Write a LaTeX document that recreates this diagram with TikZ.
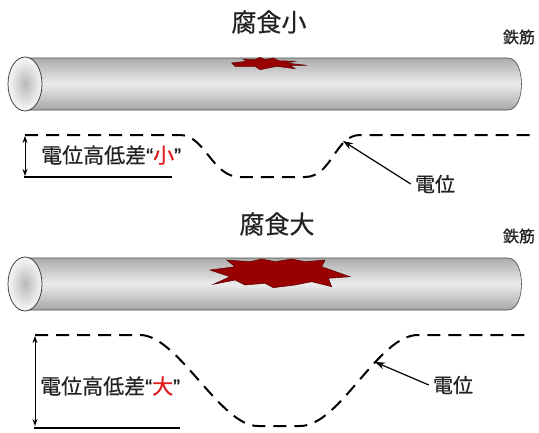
\documentclass[tikz,border=0pt]{standalone}
\usepackage{fontspec}
\setmainfont{Noto Sans CJK JP}[FakeBold=0.6]
\newfontfamily\latinq{Liberation Sans}[FakeBold=0.8]
\usetikzlibrary{arrows.meta}
\definecolor{rust}{HTML}{990000}
\definecolor{ink}{HTML}{222222}
\definecolor{alert}{HTML}{E01818}

\begin{document}
\begin{tikzpicture}[x=1pt,y=-1pt,
  title/.style={font=\fontsize{25}{25}\selectfont, text=ink, inner sep=0pt},
  bartag/.style={font=\fontsize{16}{16}\selectfont, text=ink, inner sep=0pt},
  dimlabel/.style={font=\fontsize{21}{21}\selectfont, text=ink, inner sep=0pt, anchor=west},
  potlabel/.style={font=\fontsize{20}{20}\selectfont, text=ink, inner sep=4pt},
  potential/.style={line width=2pt, dash pattern=on 13pt off 8pt},
  baseline/.style={line width=2pt},
  dimarrow/.style={line width=0.9pt, {Stealth[length=7pt,width=5pt]}-{Stealth[length=7pt,width=5pt]}},
  pointer/.style={line width=1.2pt, -{Stealth[length=10pt,width=7pt]}},
  pipebody/.style={draw=gray!60!black, line width=0.6pt, top color=gray!65, bottom color=gray!70, middle color=gray!15},
  pipecap/.style={draw=gray!50!black, line width=0.8pt, inner color=gray!55, outer color=gray!6},
  pit/.style={fill=rust, draw=rust!60!black, line width=0.5pt, line join=miter},
  rebar/.pic={
    \path[pipebody] (25,0) -- (508,0) .. controls (526,0) and (526,52) .. (508,52) -- (25,52) -- cycle;
    \path[pipecap] (25,26) ellipse [x radius=17, y radius=27];
  },
]
\useasboundingbox (0,0) rectangle (539,432);

% ---------------- upper panel: small corrosion ----------------
\node[title] (t1) at (269,22) {腐食小};
\node[bartag] (b1) at (519,37) {鉄筋};
\pic at (0,58) {rebar};
\path[pit] (231.7,63) -- (246.7,61.3) -- (243.3,59) -- (255,59.7) -- (260,57.3)
  -- (265,59.7) -- (273.3,58) -- (278.3,60.7) -- (295,61.3) -- (286.7,63)
  -- (306.7,65.3) -- (290,65.3) -- (295,68.7) -- (276.7,66.3) -- (268.3,68)
  -- (260,69.7) -- (255,66.3) -- (241.7,66.3) -- (235,66.3) -- cycle;

\draw[potential] (25,135) -- (180,135) .. controls (205,135) and (212,177) .. (240,177)
  -- (305,177) .. controls (332,177) and (335,135) .. (360,135) -- (530,135);
\coordinate (top1) at (25,136);
\coordinate (bot1) at (25,176);
\coordinate (base1a) at (24,177);
\coordinate (base1b) at (172,177);
\draw[dimarrow] (top1) -- (bot1);
\draw[baseline] (base1a) -- (base1b);
\node[dimlabel] (d1) at (41,155) {電位高低差{\latinq “}{\color{alert}小}{\latinq ”}};
\node[potlabel] (e1) at (435,184) {電位};
\coordinate (p1) at (343,141);
\draw[pointer] (e1.west) -- (p1);

% ---------------- lower panel: large corrosion ----------------
\node[title] (t2) at (277,224) {腐食大};
\node[bartag] (b2) at (519,236) {鉄筋};
\pic at (0,258) {rebar};
\path[pit] (210,270) -- (235,266.7) -- (226.7,260) -- (250,261.7) -- (261.7,259)
  -- (275,261.7) -- (291.7,259) -- (305,261.7) -- (325,260) -- (321.7,266.7)
  -- (350,276.7) -- (328.3,278.3) -- (331.7,286.7) -- (311.7,281.7) -- (295,285)
  -- (273.3,287.7) -- (265,283.3) -- (245,285) -- (235,280) -- (213.3,284.3)
  -- (230,276.7) -- cycle;

\draw[potential] (35,335) -- (140,335) .. controls (178,335) and (220,426) .. (258,426)
  -- (300,426) .. controls (340,426) and (378,335) .. (418,335) -- (530,335);
\coordinate (top2) at (35,336);
\coordinate (bot2) at (35,426);
\coordinate (base2a) at (34,428);
\coordinate (base2b) at (180,428);
\draw[dimarrow] (top2) -- (bot2);
\draw[baseline] (base2a) -- (base2b);
\node[dimlabel] (d2) at (40,386) {電位高低差{\latinq “}{\color{alert}大}{\latinq ”}};
\node[potlabel] (e2) at (453,385) {電位};
\coordinate (p2) at (375,362);
\draw[pointer] (e2.west) -- (p2);
\end{tikzpicture}
\end{document}
